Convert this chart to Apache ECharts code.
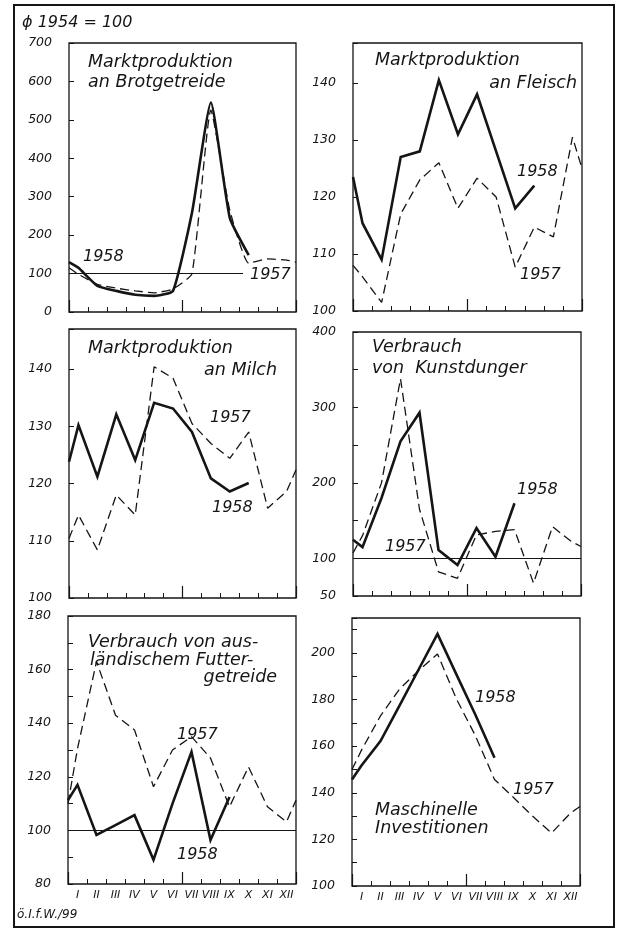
<!DOCTYPE html>
<html>
<head>
<meta charset="utf-8">
<script src="https://cdn.jsdelivr.net/npm/echarts@6/dist/echarts.min.js"></script>
<style>
html,body{margin:0;padding:0;background:#fff;}
#chart{width:622px;height:930px;}
</style>
</head>
<body>
<div id="chart"></div>
<script>
// ---------- DATA ----------
const months = ['I','II','III','IV','V','VI','VII','VIII','IX','X','XI','XII'];

// Marktproduktion an Brotgetreide
const brot1958 = [115, 68, 55, 45, 42, 55, 258, 545, 245, 148, null, null];
const brot1958Edge = [130, null];
const brot1957 = [98, 72, 62, 55, 50, 60, 100, 525, 265, 127, 138, 135];
const brot1957Edge = [115, 130];
const brotYLabels = [0, 100, 200, 300, 400, 500, 600, 700];

// Marktproduktion an Fleisch
const fleisch1958 = [115.4, 109, 127, 128, 140.5, 131, 138, 128, 118, 122, null, null];
const fleisch1958Edge = [123.5, null];
const fleisch1957 = [106, 101.5, 117, 123, 126, 118, 123.3, 120, 107.7, 114.7, 113, 130.5];
const fleisch1957Edge = [108, 125];
const fleischYLabels = [100, 110, 120, 130, 140];

// Marktproduktion an Milch
const milch1958 = [130.2, 121.2, 132.1, 124.1, 134.1, 133.1, 129, 120.9, 118.6, 120.1, null, null];
const milch1958Edge = [123.8, null];
const milch1957 = [114.5, 108.4, 118, 114.5, 140.4, 138.4, 130.5, 127, 124.4, 129, 115.7, 118.6];
const milch1957Edge = [110.4, 122.4];
const milchYLabels = [100, 110, 120, 130, 140];

// Verbrauch von Kunstdünger
const kunst1958 = [114.8, 180, 255, 293, 111, 91, 140, 102, 173, null, null, null];
const kunst1958Edge = [124.5, null];
const kunst1957 = [130, 200, 338, 165, 82, 73.5, 131, 135.6, 138, 67, 142, 122];
const kunst1957Edge = [107, 115.6];
const kunstYLabels = [50, 100, 200, 300, 400];

// Verbrauch von ausländischem Futtergetreide
const futter1958 = [117, 98.3, 102, 105.7, 89, 110, 129.3, 96.4, 112.5, null, null, null];
const futter1958Edge = [111.3, null];
const futter1957 = [130.5, 163, 143, 137.5, 116.3, 130, 135, 127, 108.8, 123.7, 108.8, 103.2];
const futter1957Edge = [110, 111.3];
const futterYLabels = [80, 100, 120, 140, 160, 180];

// Maschinelle Investitionen
const masch1958 = [151.7, 162.2, 177.4, 192.8, 208.2, 190.7, 173.4, 155, null, null, null, null];
const masch1958Edge = [145.7, null];
const masch1957 = [158.3, 173, 184.5, 192.4, 199.6, 180.2, 164.4, 145.7, 138, 130, 122.7, 131.3];
const masch1957Edge = [150, 134.1];
const maschYLabels = [100, 120, 140, 160, 180, 200];

const baseLine = 100;
const brotBaseLineEnd = 9.2; // reference line in panel 1 stops before the "1957" label

// ---------- BUILD ----------
const FONT = "'DejaVu Sans', sans-serif";
const INK = '#151515';

function toPoints(vals, edge) {
  const pts = [];
  if (edge[0] != null) pts.push([0, edge[0]]);
  vals.forEach((v, i) => { if (v != null) pts.push([i + 0.5, v]); });
  if (edge[1] != null) pts.push([12, edge[1]]);
  return pts;
}

const panels = [
  {grid:{left:69, top:43, width:227, height:269}, y:{min:0, max:700, interval:100}, labels:brotYLabels,
   s58:[brot1958, brot1958Edge], s57:[brot1957, brot1957Edge], base:'partial', xlab:false},
  {grid:{left:353, top:43, width:229, height:268}, y:{min:100, max:147, interval:10}, labels:fleischYLabels,
   s58:[fleisch1958, fleisch1958Edge], s57:[fleisch1957, fleisch1957Edge], base:null, xlab:false},
  {grid:{left:69, top:329, width:227, height:269}, y:{min:100, max:147, interval:10}, labels:milchYLabels,
   s58:[milch1958, milch1958Edge], s57:[milch1957, milch1957Edge], base:null, xlab:false},
  {grid:{left:353, top:332, width:228, height:264}, y:{min:50, max:400, interval:50}, labels:kunstYLabels,
   s58:[kunst1958, kunst1958Edge], s57:[kunst1957, kunst1957Edge], base:'full', xlab:false},
  {grid:{left:68, top:616, width:228, height:268}, y:{min:80, max:180, interval:10}, labels:futterYLabels,
   s58:[futter1958, futter1958Edge], s57:[futter1957, futter1957Edge], base:'full', xlab:true},
  {grid:{left:352, top:618, width:228, height:268}, y:{min:100, max:215, interval:10}, labels:maschYLabels,
   s58:[masch1958, masch1958Edge], s57:[masch1957, masch1957Edge], base:null, xlab:true}
];

const grid = [], xAxis = [], yAxis = [], series = [];
panels.forEach((p, i) => {
  grid.push(Object.assign({show:true, borderColor:INK, borderWidth:1.3, backgroundColor:'transparent'}, p.grid));
  xAxis.push({type:'value', gridIndex:i, position:'bottom', offset:0, min:0, max:12, interval:1,
    axisLine:{show:false}, splitLine:{show:false}, axisLabel:{show:false},
    axisTick:{show:true, inside:true, length:5, lineStyle:{color:INK, width:1}}});
  xAxis.push({type:'value', gridIndex:i, position:'bottom', offset:0, min:0, max:12, interval:6,
    axisLine:{show:false}, splitLine:{show:false}, axisLabel:{show:false},
    axisTick:{show:true, inside:true, length:12, lineStyle:{color:INK, width:1.2}}});
  xAxis.push({type:'category', gridIndex:i, position:'bottom', offset:0, data:months, boundaryGap:true,
    axisLine:{show:false}, axisTick:{show:false}, splitLine:{show:false},
    axisLabel:{show:p.xlab, interval:0, margin:6, fontFamily:FONT, fontStyle:'italic', fontSize:11, color:INK}});
  const labs = p.labels;
  yAxis.push({type:'value', gridIndex:i, position:'left', min:p.y.min, max:p.y.max, interval:p.y.interval,
    axisLine:{show:false}, splitLine:{show:false},
    axisTick:{show:true, inside:true, length:5, lineStyle:{color:INK, width:1}},
    axisLabel:{show:true, margin:17, fontFamily:FONT, fontStyle:'italic', fontSize:12.5, color:INK,
      showMaxLabel:true, showMinLabel:true,
      formatter: v => labs.indexOf(Math.round(v*1000)/1000) >= 0 ? String(v) : ''}});
  const s58 = {type:'line', xAxisIndex:3*i, yAxisIndex:i, data:toPoints(p.s58[0], p.s58[1]),
    symbol:'none', smooth: i === 0 ? 0.15 : false, lineStyle:{color:INK, width:2.6, type:'solid', join:'miter'}, z:3, animation:false};
  const s57 = {type:'line', xAxisIndex:3*i, yAxisIndex:i, data:toPoints(p.s57[0], p.s57[1]),
    symbol:'none', smooth: i === 0 ? 0.15 : false, lineStyle:{color:INK, width:1.3, type:[9,5]}, z:2, animation:false};
  if (p.base) {
    s57.markLine = {silent:true, symbol:'none', animation:false, label:{show:false},
      lineStyle:{color:INK, width:1, type:'solid'},
      data: p.base === 'full' ? [{yAxis:baseLine}] :
        [[{coord:[0, baseLine]}, {coord:[brotBaseLineEnd, baseLine]}]]};
  }
  series.push(s58, s57);
});

function txt(text, x, y, size, align) {
  return {type:'text', silent:true, z:10, style:{text:text, x:x, y:y, fill:INK,
    font:'italic ' + size + 'px ' + FONT, align:align || 'left', verticalAlign:'middle'}};
}

const T = 17.5;
const graphic = [
  {type:'rect', silent:true, shape:{x:14, y:5, width:600, height:922}, style:{fill:'none', stroke:INK, lineWidth:2}},
  txt('ϕ 1954 = 100', 22, 23, 16),
  txt('ö.I.f.W./99', 17, 915, 12),
  // panel titles
  txt('Marktproduktion', 88, 62, T), txt('an Brotgetreide', 88, 82, T),
  txt('Marktproduktion', 375, 60, T), txt('an Fleisch', 577, 83, T, 'right'),
  txt('Marktproduktion', 88, 348, T), txt('an Milch', 277, 370, T, 'right'),
  txt('Verbrauch', 372, 347, T), txt('von  Kunstdunger', 372, 368, T),
  txt('Verbrauch von aus-', 88, 642, T), txt('ländischem Futter-', 90, 660, T), txt('getreide', 277, 677, T, 'right'),
  txt('Maschinelle', 375, 810, T), txt('Investitionen', 375, 828, T),
  // series labels
  txt('1958', 83, 257, 16), txt('1957', 250, 275, 16),
  txt('1958', 517, 172, 16), txt('1957', 520, 275, 16),
  txt('1957', 210, 418, 16), txt('1958', 212, 508, 16),
  txt('1958', 517, 490, 16), txt('1957', 385, 547, 16),
  txt('1957', 177, 735, 16), txt('1958', 177, 855, 16),
  txt('1958', 475, 698, 16), txt('1957', 513, 790, 16)
];

const chart = echarts.init(document.getElementById('chart'), null, {renderer:'canvas'});
chart.setOption({
  backgroundColor:'#ffffff',
  animation:false,
  grid: grid, xAxis: xAxis, yAxis: yAxis, series: series, graphic: graphic
});
</script>
</body>
</html>
